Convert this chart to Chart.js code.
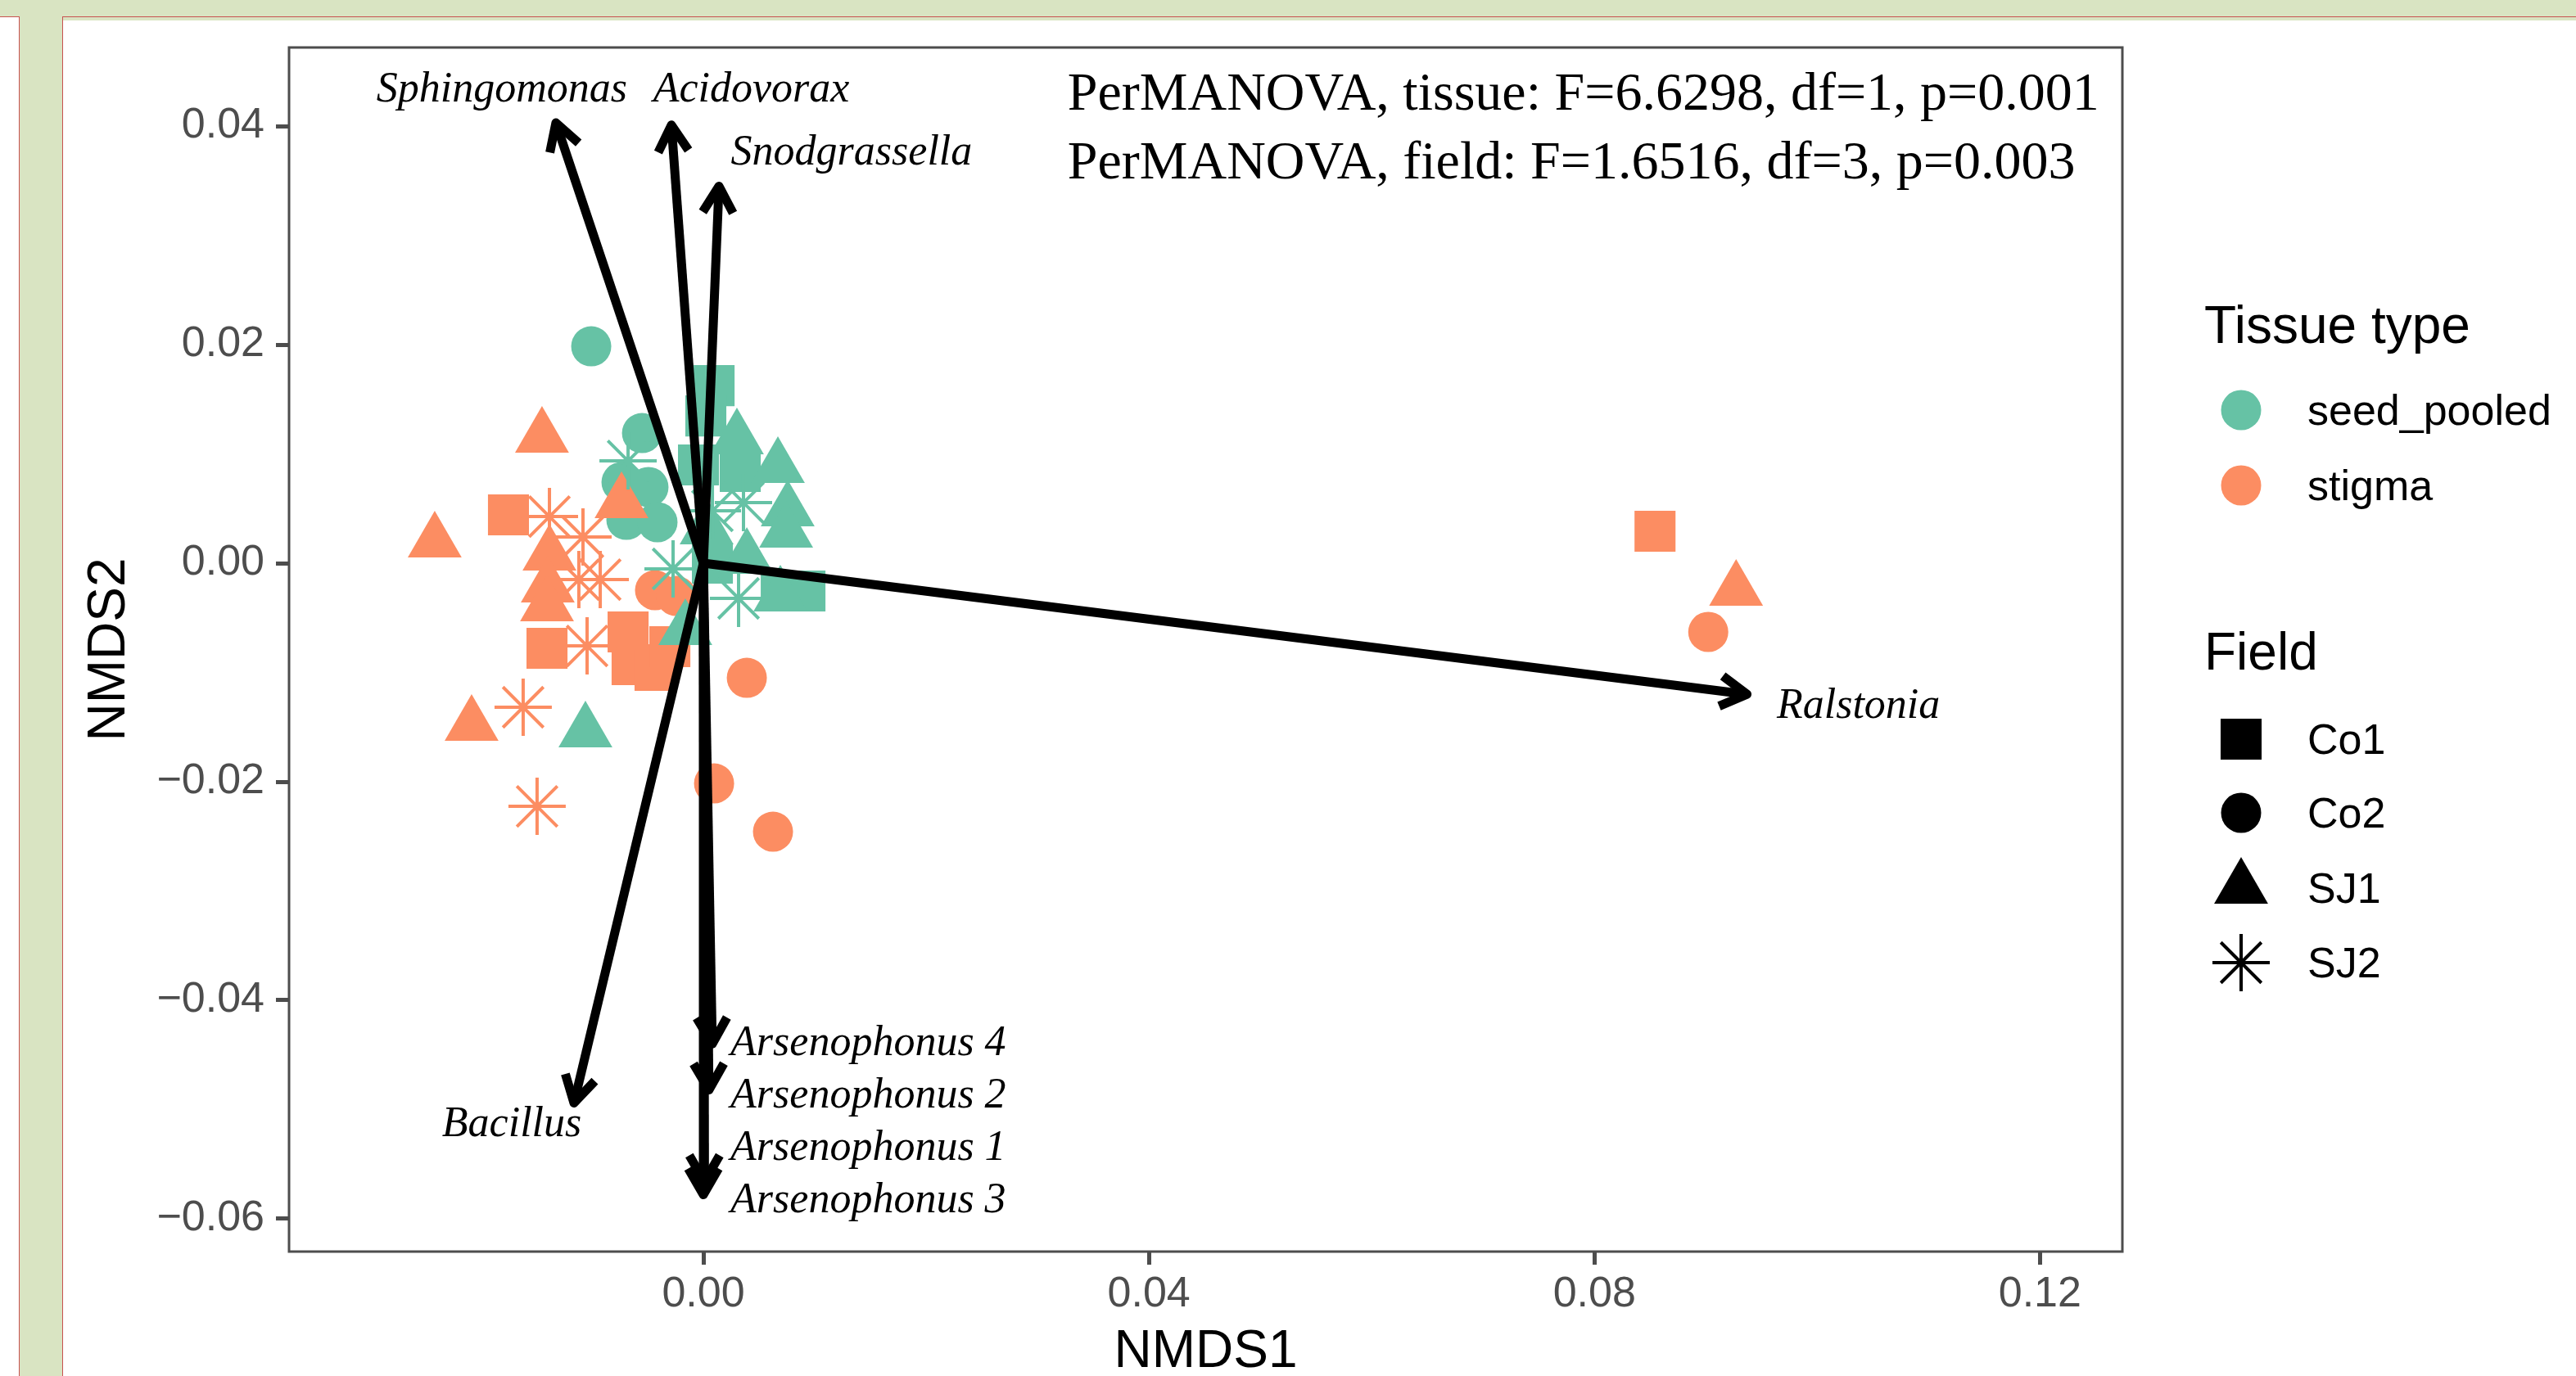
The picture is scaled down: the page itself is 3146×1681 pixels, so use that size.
<!DOCTYPE html>
<html>
<head>
<meta charset="utf-8">
<script src="https://cdn.jsdelivr.net/npm/chart.js@4.4.1/dist/chart.umd.min.js"></script>
<style>
  html, body { margin: 0; padding: 0; }
  body { width: 3146px; height: 1681px; background: #d9e4c2; position: relative; overflow: hidden; }
  #strip { position: absolute; left: 0; top: 20px; width: 23px; bottom: -10px; background: #fff;
           border-right: 1px solid #c8524f; border-top: 1px solid #c8524f; }
  #panel { position: absolute; left: 76px; top: 20px; right: -10px; bottom: -10px; background: #fff;
           border-left: 1px solid #c8524f; border-top: 1px solid #c8524f; box-shadow: inset 0 4px 0 #d9e4c2; }
  #chart { position: absolute; left: 0; top: 0; }
</style>
</head>
<body>
<div id="strip"></div>
<div id="panel"></div>
<canvas id="chart" width="3146" height="1681"></canvas>
<script>
'use strict';

// axis ticks
const xTicks = [0, 0.04, 0.08, 0.12];
const yTicks = [-0.06, -0.04, -0.02, 0, 0.02, 0.04];

// NMDS scores [NMDS1, NMDS2], one list per tissue x field
const seedCo1 = [[0.00096, 0.01625], [0.00022, 0.01348], [-0.00044, 0.00899], [0.00331, 0.00839], [0.00081, 0.0], [0.00699, -0.00255], [0.00912, -0.00255]];
const seedCo2 = [[-0.01007, 0.01985], [-0.00551, 0.01191], [-0.00735, 0.00742], [-0.00493, 0.00697], [-0.00691, 0.00397], [-0.00412, 0.00375]];
const seedSJ1 = [[0.00301, 0.01139], [0.00669, 0.00876], [0.00757, 0.00479], [0.00743, 0.00285], [0.0039, 0.00045], [0.00691, -0.003], [0.00029, 0.00315], [-0.00162, -0.00607], [-0.01059, -0.01543]];
const seedSJ2 = [[-0.00676, 0.00936], [0.0036, 0.00554], [-0.00272, -0.00052], [0.00316, -0.00322], [0.00081, 0.00479]];
const stigmaCo1 = [[-0.0175, 0.00442], [-0.01404, -0.00779], [0.08544, 0.00292], [-0.00676, -0.00629], [-0.0064, -0.00929], [-0.00434, -0.00981], [-0.00301, -0.00764]];
const stigmaCo2 = [[0.0039, -0.01049], [0.00096, -0.02015], [0.00625, -0.02457], [0.09022, -0.00629], [-0.00434, -0.00247], [-0.00243, -0.003]];
const stigmaSJ1 = [[-0.02412, 0.00195], [-0.01449, 0.01154], [-0.00735, 0.00554], [-0.01382, 0.00075], [-0.01397, -0.00217], [-0.01404, -0.0039], [-0.02081, -0.01483], [0.09272, -0.00247]];
const stigmaSJ2 = [[-0.01382, 0.00427], [-0.01081, 0.0024], [-0.01118, -0.0015], [-0.00926, -0.0015], [-0.01044, -0.00757], [-0.01618, -0.01318], [-0.01493, -0.02225]];

// fitted taxa vectors (arrow tips) and where their names sit
const vectorNames = ['Sphingomonas', 'Acidovorax', 'Snodgrassella', 'Ralstonia', 'Bacillus',
  'Arsenophonus 4', 'Arsenophonus 2', 'Arsenophonus 1', 'Arsenophonus 3'];
const vectorX = [-0.01324, -0.00287, 0.0014, 0.0937, -0.01162, 0.0008, 0.0005, 0.0001, 0.0];
const vectorY = [0.0403, 0.0401, 0.0345, -0.012, -0.0494, -0.0440, -0.0482, -0.0566, -0.0578];
const labelX = [-0.0181, 0.0043, 0.0133, 0.1037, -0.0172, 0.0148, 0.0148, 0.0148, 0.0148];
const labelY = [0.0433, 0.0433, 0.0375, -0.0131, -0.0514, -0.0440, -0.0488, -0.0536, -0.0584];

const statLines = ['PerMANOVA, tissue: F=6.6298, df=1, p=0.001', 'PerMANOVA, field: F=1.6516, df=3, p=0.003'];
const statX = 0.0327;
const statY = [0.0428, 0.0365];

const tissueLevels = ['seed_pooled', 'stigma'];
const fieldLevels = ['Co1', 'Co2', 'SJ1', 'SJ2'];

const SEED = '#66C2A5';
const STIGMA = '#FC8D62';
const SANS = '"Liberation Sans", Arial, Helvetica, sans-serif';
const SERIF = '"Liberation Serif", "Times New Roman", serif';
const AXIS_GREY = '#4d4d4d';

const shapes = {
  Co1: { pointStyle: 'rect', radius: 35.4, borderWidth: 0 },
  Co2: { pointStyle: 'circle', radius: 24.5, borderWidth: 0 },
  SJ1: { pointStyle: 'triangle', radius: 38, borderWidth: 0 },
  SJ2: { pointStyle: 'star', radius: 35, borderWidth: 4 },
};

function toPts(arr) { return arr.map(p => ({ x: p[0], y: p[1] })); }

function pointSet(label, arr, color, field) {
  const s = shapes[field];
  return {
    label,
    data: toPts(arr),
    pointStyle: s.pointStyle,
    pointRadius: s.radius,
    pointHoverRadius: s.radius,
    pointBorderWidth: s.borderWidth,
    pointBackgroundColor: color,
    pointBorderColor: color,
    order: 1,
  };
}

function fmt(v) {
  const s = Math.abs(v).toFixed(2);
  return v < -1e-9 ? '\u2212' + s : s;
}

function drawKey(ctx, style, x, y) {
  const s = shapes[style.field];
  ctx.fillStyle = style.color;
  ctx.strokeStyle = style.color;
  ctx.lineWidth = s.borderWidth;
  Chart.helpers.drawPoint(ctx, { pointStyle: s.pointStyle, radius: s.radius, rotation: 0, borderWidth: s.borderWidth }, x, y);
}

// points first (top-most first), arrow shafts drawn above them
const datasets = [
  pointSet('seed SJ2', seedSJ2, SEED, 'SJ2'),
  pointSet('stigma SJ1', stigmaSJ1, STIGMA, 'SJ1'),
  pointSet('seed SJ1', seedSJ1, SEED, 'SJ1'),
  pointSet('stigma SJ2', stigmaSJ2, STIGMA, 'SJ2'),
  pointSet('stigma Co1', stigmaCo1, STIGMA, 'Co1'),
  pointSet('stigma Co2', stigmaCo2, STIGMA, 'Co2'),
  pointSet('seed Co1', seedCo1, SEED, 'Co1'),
  pointSet('seed Co2', seedCo2, SEED, 'Co2'),
];
vectorNames.forEach((name, i) => {
  datasets.unshift({
    label: name,
    data: [{ x: 0, y: 0 }, { x: vectorX[i], y: vectorY[i] }],
    showLine: true,
    borderColor: '#000',
    borderWidth: 11,
    borderCapStyle: 'butt',
    pointRadius: 0,
    pointHoverRadius: 0,
    clip: false,
    order: 0,
  });
});

const HEAD = 37;
const HEAD_ANG = Math.PI / 6;

const decor = {
  id: 'decor',
  afterDatasetsDraw(chart) {
    const { ctx, scales: { x, y } } = chart;
    ctx.save();
    // arrow heads
    ctx.strokeStyle = '#000';
    ctx.lineWidth = 11;
    ctx.lineJoin = 'round';
    ctx.lineCap = 'butt';
    const x0 = x.getPixelForValue(0), y0 = y.getPixelForValue(0);
    vectorX.forEach((vx, i) => {
      const x1 = x.getPixelForValue(vx), y1 = y.getPixelForValue(vectorY[i]);
      const a = Math.atan2(y1 - y0, x1 - x0);
      ctx.beginPath();
      ctx.moveTo(x1 - HEAD * Math.cos(a - HEAD_ANG), y1 - HEAD * Math.sin(a - HEAD_ANG));
      ctx.lineTo(x1, y1);
      ctx.lineTo(x1 - HEAD * Math.cos(a + HEAD_ANG), y1 - HEAD * Math.sin(a + HEAD_ANG));
      ctx.stroke();
    });

    // taxa names
    ctx.fillStyle = '#000';
    ctx.font = 'italic 52px ' + SERIF;
    ctx.textAlign = 'center';
    ctx.textBaseline = 'middle';
    vectorNames.forEach((name, i) => {
      ctx.fillText(name, x.getPixelForValue(labelX[i]), y.getPixelForValue(labelY[i]));
    });

    // PerMANOVA results
    ctx.font = '66px ' + SERIF;
    ctx.textAlign = 'left';
    statLines.forEach((t, i) => {
      ctx.fillText(t, x.getPixelForValue(statX), y.getPixelForValue(statY[i]));
    });
    ctx.restore();
  },
  afterDraw(chart) {
    const { ctx, chartArea: a } = chart;
    ctx.save();
    // panel border
    ctx.strokeStyle = AXIS_GREY;
    ctx.lineWidth = 3;
    ctx.strokeRect(a.left, a.top, a.right - a.left, a.bottom - a.top);

    // axis titles
    ctx.fillStyle = '#000';
    ctx.font = '64px ' + SANS;
    ctx.textAlign = 'center';
    ctx.textBaseline = 'middle';
    ctx.fillText('NMDS1', (a.left + a.right) / 2, 1652);
    ctx.save();
    ctx.translate(134, (a.top + a.bottom) / 2);
    ctx.rotate(-Math.PI / 2);
    ctx.fillText('NMDS2', 0, 0);
    ctx.restore();

    // legends
    const keyX = 2737, textX = 2818;
    ctx.textAlign = 'left';
    ctx.font = '64px ' + SANS;
    ctx.fillText('Tissue type', 2692, 401);
    ctx.fillText('Field', 2692, 800);
    ctx.font = '52px ' + SANS;
    const tissueY = [501, 593];
    tissueLevels.forEach((lv, i) => {
      drawKey(ctx, { field: 'Co2', color: i === 0 ? SEED : STIGMA }, keyX, tissueY[i]);
      ctx.fillStyle = '#000';
      ctx.fillText(lv, textX, tissueY[i] + 4);
    });
    const fieldY = [903, 993, 1085, 1176];
    fieldLevels.forEach((lv, i) => {
      drawKey(ctx, { field: lv, color: '#000' }, keyX, fieldY[i]);
      ctx.fillStyle = '#000';
      ctx.fillText(lv, textX, fieldY[i] + 4);
    });
    ctx.restore();
  },
};

const tickFont = { family: SANS, size: 52 };

new Chart(document.getElementById('chart'), {
  type: 'scatter',
  data: { datasets },
  options: {
    responsive: false,
    animation: false,
    devicePixelRatio: 1,
    events: [],
    layout: { padding: { left: 0, top: 58, right: 554, bottom: 0 } },
    plugins: { legend: { display: false }, tooltip: { enabled: false } },
    scales: {
      x: {
        type: 'linear',
        min: -0.0372,
        max: 0.1274,
        afterBuildTicks: s => { s.ticks = xTicks.map(v => ({ value: v })); },
        afterFit: s => { s.height = 152; },
        grid: { display: true, drawOnChartArea: false, drawTicks: true, tickLength: 16, tickWidth: 5, tickColor: AXIS_GREY },
        border: { display: false },
        ticks: { callback: v => fmt(v), font: tickFont, color: AXIS_GREY, padding: 5, autoSkip: false, maxRotation: 0 },
      },
      y: {
        type: 'linear',
        min: -0.063,
        max: 0.0472,
        afterBuildTicks: s => { s.ticks = yTicks.map(v => ({ value: v })); },
        afterFit: s => { s.width = 353; },
        grid: { display: true, drawOnChartArea: false, drawTicks: true, tickLength: 16, tickWidth: 5, tickColor: AXIS_GREY },
        border: { display: false },
        ticks: { callback: v => fmt(v), font: tickFont, color: AXIS_GREY, padding: 14, autoSkip: false },
      },
    },
  },
  plugins: [decor],
});
</script>
</body>
</html>
